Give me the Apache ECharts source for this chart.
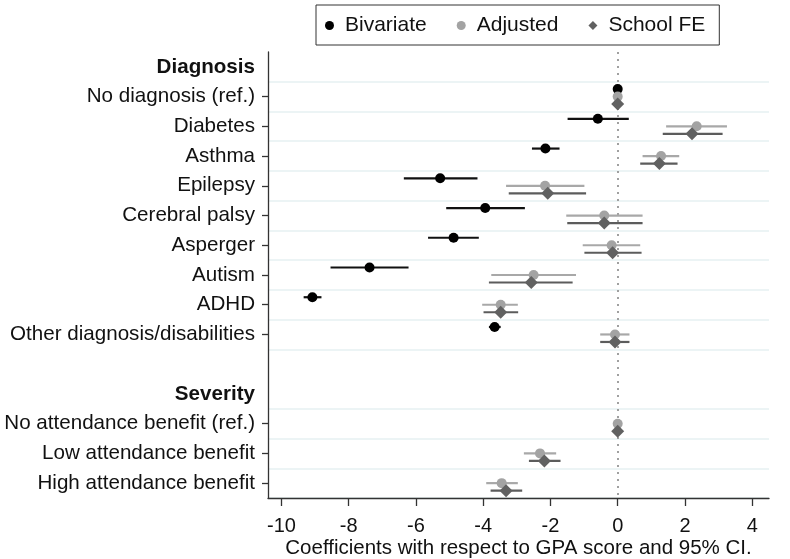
<!DOCTYPE html>
<html>
<head>
<meta charset="utf-8">
<script src="https://cdn.jsdelivr.net/npm/echarts@6/dist/echarts.min.js"></script>
<style>html,body{margin:0;padding:0;background:#fff}#c{width:790px;height:559px}</style>
</head>
<body>
<div id="c"></div>
<script>
// ---- data ----
var categories = ['Diagnosis', 'No diagnosis (ref.)', 'Diabetes', 'Asthma', 'Epilepsy', 'Cerebral palsy',
  'Asperger', 'Autism', 'ADHD', 'Other diagnosis/disabilities', '', 'Severity',
  'No attendance benefit (ref.)', 'Low attendance benefit', 'High attendance benefit'];
var headerRows = ['Diagnosis', 'Severity'];
var seriesNames = ['Bivariate', 'Adjusted', 'School FE'];
var xTickValues = [-10, -8, -6, -4, -2, 0, 2, 4];
var xAxisName = 'Coefficients with respect to GPA score and 95% CI.';

// [row index, estimate, ci low, ci high]
var bivariate = [
  [1, 0, 0, 0],
  [2, -0.59, -1.49, 0.33],
  [3, -2.15, -2.55, -1.73],
  [4, -5.28, -6.36, -4.17],
  [5, -3.94, -5.10, -2.76],
  [6, -4.88, -5.64, -4.13],
  [7, -7.38, -8.54, -6.22],
  [8, -9.08, -9.34, -8.81],
  [9, -3.66, -3.83, -3.48]
];
var adjusted = [
  [1, 0, 0, 0],
  [2, 2.35, 1.44, 3.25],
  [3, 1.29, 0.74, 1.83],
  [4, -2.16, -3.32, -0.99],
  [5, -0.40, -1.53, 0.74],
  [6, -0.18, -1.04, 0.67],
  [7, -2.50, -3.76, -1.24],
  [8, -3.48, -4.03, -2.97],
  [9, -0.08, -0.52, 0.35],
  [12, 0, 0, 0],
  [13, -2.31, -2.79, -1.83],
  [14, -3.45, -3.91, -2.97]
];
var schoolFE = [
  [1, 0, 0, 0],
  [2, 2.21, 1.34, 3.12],
  [3, 1.24, 0.67, 1.78],
  [4, -2.08, -3.24, -0.94],
  [5, -0.40, -1.50, 0.74],
  [6, -0.15, -0.99, 0.71],
  [7, -2.57, -3.83, -1.34],
  [8, -3.48, -3.99, -2.96],
  [9, -0.08, -0.52, 0.35],
  [12, 0, 0, 0],
  [13, -2.18, -2.64, -1.70],
  [14, -3.32, -3.78, -2.84]
];

// ---- styling ----
var colors = ['#000000', '#a3a3a3', '#616161'];
var ciColors = ['#111111', '#a8a8a8', '#5c5c5c'];
var offsets = [-7.5, 0, 7.5];
var symbols = ['circle', 'circle', 'diamond'];
var symbolSizes = [10, 10, 13];
var allData = [bivariate, adjusted, schoolFE];
var FONT = 'Arial, "Liberation Sans", sans-serif';

var chart = echarts.init(document.getElementById('c'), null, {renderer: 'canvas'});

var series = [];
allData.forEach(function (d, k) {
  series.push({
    name: seriesNames[k] + ' CI',
    type: 'custom',
    z: 3,
    silent: true,
    data: d.map(function (r) { return [r[2], r[3], r[0]]; }),
    encode: {x: [0, 1], y: 2},
    renderItem: function (params, api) {
      var p1 = api.coord([api.value(0), api.value(2)]);
      var p2 = api.coord([api.value(1), api.value(2)]);
      var off = offsets[k];
      return {
        type: 'line',
        shape: {x1: p1[0], y1: p1[1] + off, x2: p2[0], y2: p2[1] + off},
        style: {stroke: ciColors[k], lineWidth: 2.2}
      };
    }
  });
});
allData.forEach(function (d, k) {
  var s = {
    name: seriesNames[k],
    type: 'scatter',
    z: 5,
    symbol: symbols[k],
    symbolSize: symbolSizes[k],
    symbolOffset: [0, offsets[k]],
    itemStyle: {color: colors[k], opacity: 1},
    data: d.map(function (r) { return [r[1], r[0]]; })
  };
  if (k === 0) {
    s.markLine = {
      silent: true,
      symbol: ['none', 'none'],
      label: {show: false},
      lineStyle: {color: '#a0a0a0', type: [2, 5], width: 2},
      z: 1,
      data: [{xAxis: 0}]
    };
  }
  series.push(s);
});

var option = {
  animation: false,
  backgroundColor: '#ffffff',
  textStyle: {fontFamily: FONT},
  legend: {
    data: seriesNames.map(function (n, k) { return {name: n, icon: symbols[k]}; }),
    left: 316,
    top: 5,
    padding: [10, 14, 9, 9],
    borderColor: '#333',
    borderWidth: 1,
    itemWidth: 9,
    itemHeight: 9,
    itemGap: 30,
    textStyle: {fontSize: 21, color: '#111', fontFamily: FONT, padding: [0, 0, 0, 6]}
  },
  grid: {left: 268, right: 21, top: 52, bottom: 61, containLabel: false, outerBoundsMode: 'none'},
  xAxis: {
    type: 'value',
    min: -10.4,
    max: 4.5,
    name: xAxisName,
    nameLocation: 'middle',
    nameGap: 40,
    nameMoveOverlap: false,
    nameTextStyle: {fontSize: 20.5, color: '#111', fontFamily: FONT},
    axisLine: {show: true, onZero: false, lineStyle: {color: '#333', width: 1.3}},
    axisTick: {show: true, length: 8, customValues: xTickValues, lineStyle: {color: '#333', width: 1.3}},
    axisLabel: {fontSize: 20, color: '#111', margin: 18, customValues: xTickValues, fontFamily: FONT},
    splitLine: {show: false}
  },
  yAxis: {
    type: 'category',
    inverse: true,
    data: categories,
    boundaryGap: true,
    axisLine: {show: true, onZero: false, lineStyle: {color: '#333', width: 1.3}},
    axisTick: {
      show: true, length: 6, alignWithLabel: true,
      interval: function (i, v) { return v !== '' && headerRows.indexOf(v) < 0; },
      lineStyle: {color: '#333', width: 1.3}
    },
    axisLabel: {
      interval: 0,
      fontSize: 20.6,
      color: '#111',
      margin: 13,
      fontFamily: FONT,
      formatter: function (v) { return headerRows.indexOf(v) >= 0 ? '{h|' + v + '}' : v; },
      rich: {h: {fontWeight: 'bold', fontSize: 20.6, color: '#111', fontFamily: FONT}}
    },
    splitLine: {
      show: true,
      interval: function (i, v) { return i !== 0 && i !== 11; },
      lineStyle: {color: '#e6f0f2', width: 1.5}
    }
  },
  series: series
};
chart.setOption(option);
</script>
</body>
</html>
